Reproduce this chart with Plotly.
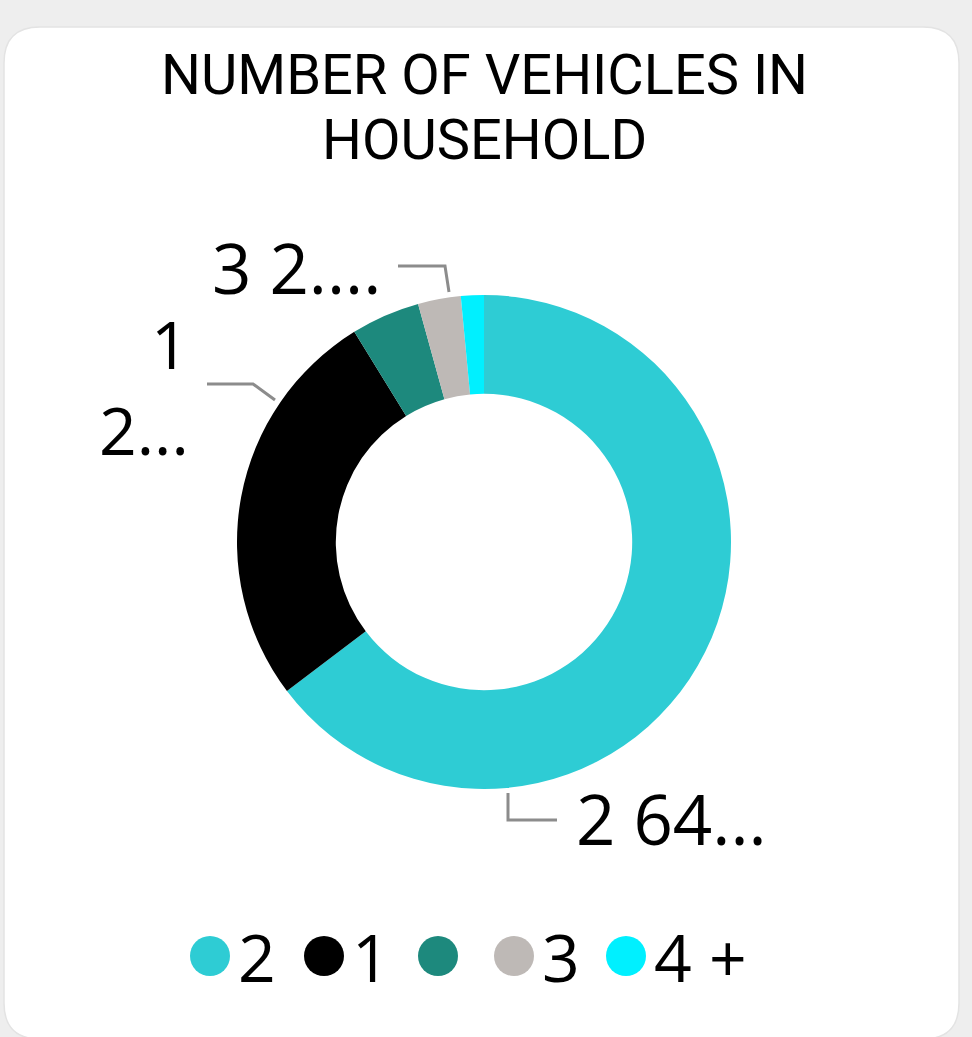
import plotly.graph_objects as go

# ---- data ----
categories = ["2", "1", "(Blank)", "3", "4 +"]
legend_labels = ["2", "1", "", "3", "4 +"]
shares = [64.7, 26.5, 4.5, 2.8, 1.5]
label_text = ["2 64...", "1<br>2...", "", "3 2....", ""]
title_lines = ["NUMBER OF VEHICLES IN", "HOUSEHOLD"]

# ---- style ----
colors = ["#2ECCD4", "#000000", "#1D897D", "#BEB9B6", "#00F0FF"]
W, H = 972, 1037
CX, CY, R = 484, 542, 247
LABEL_FONT = "Open Sans, Noto Sans, DejaVu Sans, sans-serif"
TITLE_FONT = "Roboto, DejaVu Sans, sans-serif"

fig = go.Figure()

fig.add_trace(go.Pie(
    labels=categories, values=shares, sort=False, direction="clockwise", rotation=0,
    hole=0.6, textinfo="none", showlegend=False,
    marker=dict(colors=colors, line=dict(width=0)),
    domain=dict(x=[(CX - R) / W, (CX + R) / W], y=[1 - (CY + R) / H, 1 - (CY - R) / H]),
))

shapes = []
# card
x0, y0, x1, y1, r = 4, 27, 959, 1039, 36
card = (f"M {x0+r},{y0} L {x1-r},{y0} Q {x1},{y0} {x1},{y0+r} L {x1},{y1-r} "
        f"Q {x1},{y1} {x1-r},{y1} L {x0+r},{y1} Q {x0},{y1} {x0},{y1-r} "
        f"L {x0},{y0+r} Q {x0},{y0} {x0+r},{y0} Z")
shapes.append(dict(type="path", xref="x", yref="y", path=card, fillcolor="#FFFFFF",
                   line=dict(color="#E3E3E3", width=1.5), layer="below"))

# leader lines
leaders = [
    "M 508,793 L 508,820 L 557,820",
    "M 207,384 L 253,384 L 275,400",
    "M 398,266 L 445,266 L 449,292",
]
for p in leaders:
    shapes.append(dict(type="path", xref="x", yref="y", path=p,
                       line=dict(color="#8C8C8C", width=3)))

annotations = []
# title
for t, y in zip(title_lines, [75, 140]):
    annotations.append(dict(x=484, y=y, xref="x", yref="y", text=t, showarrow=False,
                            xanchor="center", yanchor="middle",
                            font=dict(family=TITLE_FONT, size=56, color="#000000")))

# data labels
lab2, lab1, _, lab3, _ = label_text
label_specs = [
    (lab2, 574, 818, "left", 69),
    (lab1, 191, 386, "right", 66),
    (lab3, 383, 267, "right", 69),
]
for t, x, y, anc, fs in label_specs:
    annotations.append(dict(x=x, y=y, xref="x", yref="y", text=t, showarrow=False,
                            xanchor=anc, yanchor="middle", align="right",
                            font=dict(family=LABEL_FONT, size=fs, color="#000000")))

# legend (manual, circle markers)
legend_cx = [210, 324, 438, 514, 626]
LEG_Y, LEG_R = 956, 20
for c, col, lx in zip(legend_labels, colors, legend_cx):
    shapes.append(dict(type="circle", xref="x", yref="y",
                       x0=lx - LEG_R, x1=lx + LEG_R, y0=LEG_Y - LEG_R, y1=LEG_Y + LEG_R,
                       fillcolor=col, line=dict(width=0)))
    if c:
        annotations.append(dict(x=lx + LEG_R + 6, y=LEG_Y, xref="x", yref="y", text=c,
                                showarrow=False, xanchor="left", yanchor="middle",
                                font=dict(family=LABEL_FONT, size=66, color="#000000")))

fig.update_layout(
    width=W, height=H, margin=dict(l=0, r=0, t=0, b=0),
    paper_bgcolor="#EEEEEE", plot_bgcolor="rgba(0,0,0,0)",
    xaxis=dict(range=[0, W], visible=False, domain=[0, 1], fixedrange=True),
    yaxis=dict(range=[H, 0], visible=False, domain=[0, 1], fixedrange=True),
    shapes=shapes, annotations=annotations,
)

fig.write_html(
    "out.html",
    config={"displayModeBar": False},
    post_script="document.body.style.margin='0';document.body.style.overflow='hidden';"
                "document.body.style.background='#EEEEEE';",
)
